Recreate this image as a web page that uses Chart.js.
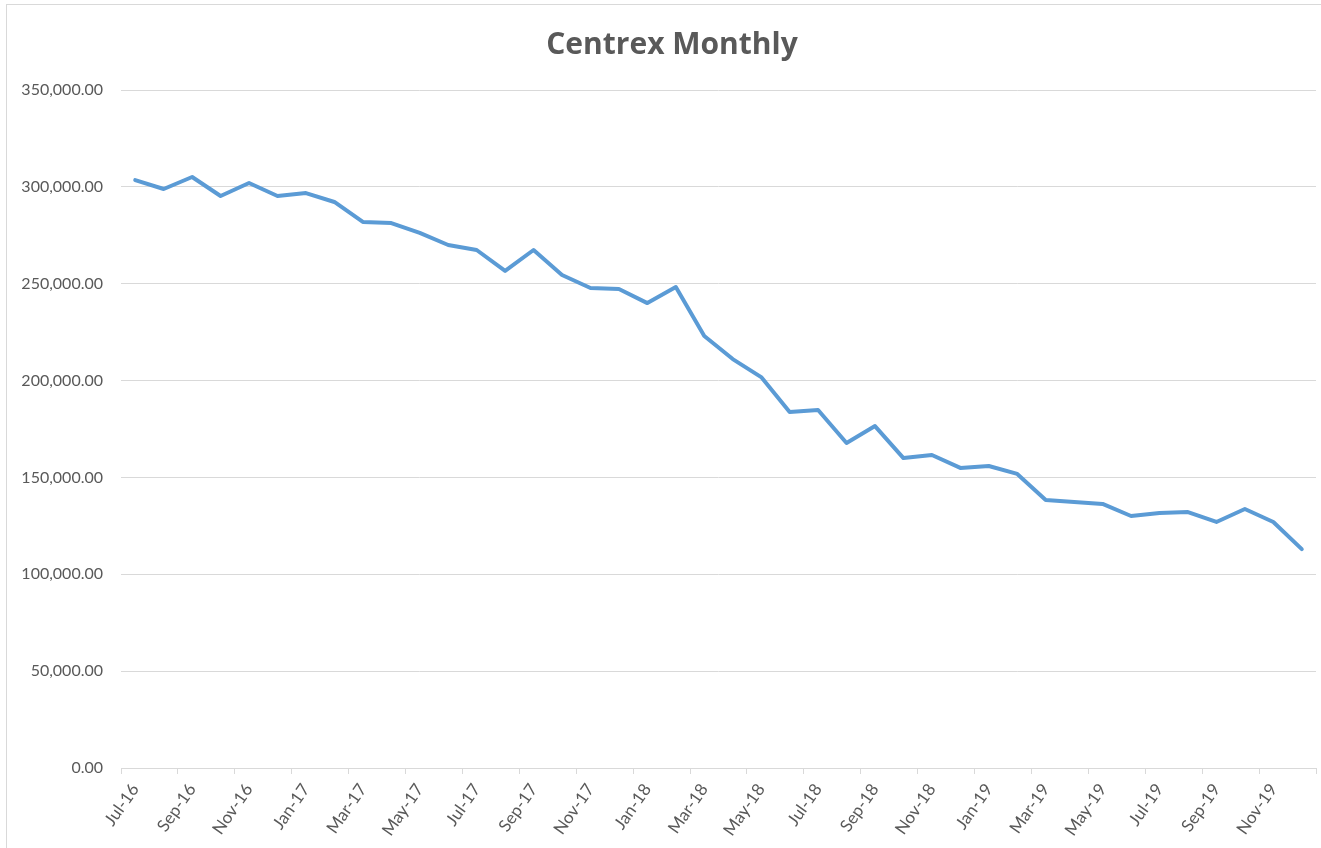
<!DOCTYPE html>
<html>
<head>
<meta charset="utf-8">
<script src="https://cdn.jsdelivr.net/npm/chart.js@4.4.1/dist/chart.umd.min.js"></script>
<style>
  html, body { margin: 0; padding: 0; background: #fff; overflow: hidden; }
  #wrap { position: absolute; left: 0; top: 0; width: 1321px; height: 848px; overflow: hidden; }
  #frame { position: absolute; left: 6px; top: 4px; width: 1330px; height: 860px; border: 1px solid #d9d9d9; box-sizing: border-box; }
  canvas { position: absolute; left: 0; top: 0; }
</style>
</head>
<body>
<div id="wrap">
  <div id="frame"></div>
  <canvas id="c" width="1321" height="848"></canvas>
</div>
<script>
const title = "Centrex Monthly";
const months = [
  "Jul-16","Aug-16","Sep-16","Oct-16","Nov-16","Dec-16",
  "Jan-17","Feb-17","Mar-17","Apr-17","May-17","Jun-17","Jul-17","Aug-17","Sep-17","Oct-17","Nov-17","Dec-17",
  "Jan-18","Feb-18","Mar-18","Apr-18","May-18","Jun-18","Jul-18","Aug-18","Sep-18","Oct-18","Nov-18","Dec-18",
  "Jan-19","Feb-19","Mar-19","Apr-19","May-19","Jun-19","Jul-19","Aug-19","Sep-19","Oct-19","Nov-19","Dec-19"
];
const centrex = [
  303500, 298900, 305100, 295300, 302000, 295300,
  296800, 292200, 281900, 281300, 276200, 270000, 267400, 256600, 267400, 254500, 247800, 247300,
  240000, 248300, 223000, 211100, 201800, 183800, 184800, 167800, 176500, 160000, 161600, 154900,
  155900, 151800, 138300, 137300, 136300, 130100, 131600, 132100, 127000, 133700, 127000, 113000
];
const yMin = 0, yMax = 350000, yStep = 50000;

const TEXT = '#595959';
const GRID = '#d9d9d9';
const FONT = 'Lato, "Open Sans", sans-serif';
const TITLE_FONT = '"Open Sans", Lato, sans-serif';

// Title drawn centred on the Excel chart frame (which extends past the window)
const frameTitle = {
  id: 'frameTitle',
  afterDraw(chart) {
    const ctx = chart.ctx;
    ctx.save();
    ctx.fillStyle = TEXT;
    ctx.font = 'bold 30px ' + TITLE_FONT;
    ctx.textAlign = 'center';
    ctx.textBaseline = 'alphabetic';
    ctx.fillText(title, 672, 54);
    ctx.restore();
  }
};

new Chart(document.getElementById('c'), {
  type: 'line',
  data: {
    labels: months,
    datasets: [{
      data: centrex,
      borderColor: '#5b9bd5',
      borderWidth: 4,
      pointRadius: 0,
      pointHoverRadius: 0,
      tension: 0,
      fill: false,
      borderJoinStyle: 'round',
      borderCapStyle: 'round'
    }]
  },
  plugins: [frameTitle],
  options: {
    responsive: false,
    animation: false,
    devicePixelRatio: 1,
    layout: { padding: { left: 0, right: 5, top: 90, bottom: 0 } },
    plugins: {
      legend: { display: false },
      tooltip: { enabled: false },
      title: { display: false }
    },
    scales: {
      x: {
        type: 'category',
        offset: true,
        border: { display: true, color: GRID, width: 1 },
        grid: {
          offset: true,
          drawOnChartArea: false,
          drawTicks: true,
          tickLength: 6,
          tickColor: (ctx) => (ctx.index === undefined || ctx.index % 2 === 0) ? GRID : 'rgba(0,0,0,0)',
          color: GRID
        },
        ticks: {
          autoSkip: false,
          minRotation: 55,
          maxRotation: 55,
          padding: 6,
          color: TEXT,
          font: { family: FONT, size: 17 },
          callback: function(v, i) { return i % 2 === 0 ? this.getLabelForValue(v) : ''; }
        },
        afterFit: (s) => { s.height = 80; s.paddingRight = 0; s.paddingLeft = 0; }
      },
      y: {
        min: yMin,
        max: yMax,
        border: { display: false },
        grid: { color: GRID, lineWidth: 1, drawTicks: false },
        ticks: {
          stepSize: yStep,
          padding: 18,
          color: TEXT,
          font: { family: FONT, size: 16 },
          callback: (v) => Number(v).toLocaleString('en-US', { minimumFractionDigits: 2, maximumFractionDigits: 2 })
        },
        afterFit: (s) => { s.width = 121; }
      }
    }
  }
});
</script>
</body>
</html>
